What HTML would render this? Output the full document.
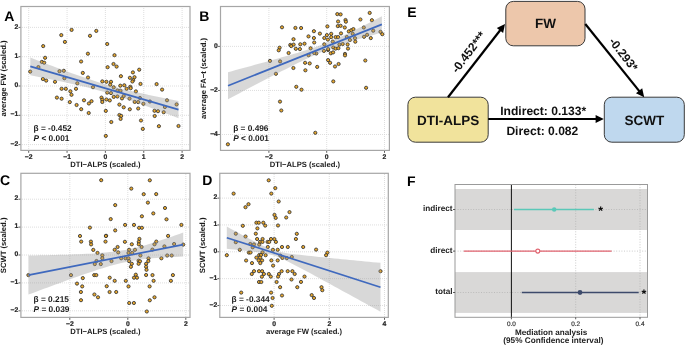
<!DOCTYPE html>
<html><head><meta charset="utf-8"><title>Figure</title>
<style>
html,body{margin:0;padding:0;background:#fff;}
body{width:685px;height:346px;overflow:hidden;font-family:"Liberation Sans", sans-serif;}
svg{display:block;filter:blur(0.3px);}
</style></head>
<body>
<svg width="685" height="346" viewBox="0 0 685 346" text-rendering="geometricPrecision">
<rect width="685" height="346" fill="#fff"/>
<g stroke="#d6d6d6" stroke-width="0.8" stroke-dasharray="1 1"><line x1="28.7" y1="6.5" x2="28.7" y2="150.4" stroke-dashoffset="0.50"/><line x1="67.05" y1="6.5" x2="67.05" y2="150.4" stroke-dashoffset="0.50"/><line x1="105.4" y1="6.5" x2="105.4" y2="150.4" stroke-dashoffset="0.50"/><line x1="143.75" y1="6.5" x2="143.75" y2="150.4" stroke-dashoffset="0.50"/><line x1="182.1" y1="6.5" x2="182.1" y2="150.4" stroke-dashoffset="0.50"/><line x1="20.9" y1="27.4" x2="190.0" y2="27.4" stroke-dashoffset="0.90"/><line x1="20.9" y1="56.7" x2="190.0" y2="56.7" stroke-dashoffset="0.90"/><line x1="20.9" y1="86.0" x2="190.0" y2="86.0" stroke-dashoffset="0.90"/><line x1="20.9" y1="115.3" x2="190.0" y2="115.3" stroke-dashoffset="0.90"/><line x1="20.9" y1="144.6" x2="190.0" y2="144.6" stroke-dashoffset="0.90"/></g>
<g fill="#E9A82C" stroke="#333" stroke-width="0.85"><circle cx="71.6" cy="29.9" r="1.6"/><circle cx="96.3" cy="30.9" r="1.6"/><circle cx="61.3" cy="35.1" r="1.6"/><circle cx="90.0" cy="35.8" r="1.6"/><circle cx="64.9" cy="41.9" r="1.6"/><circle cx="43.2" cy="46.1" r="1.6"/><circle cx="87.9" cy="53.7" r="1.6"/><circle cx="45.1" cy="57.8" r="1.6"/><circle cx="81.1" cy="61.5" r="1.6"/><circle cx="41.8" cy="61.9" r="1.6"/><circle cx="44.2" cy="62.7" r="1.6"/><circle cx="38.4" cy="67.1" r="1.6"/><circle cx="30.2" cy="71.6" r="1.6"/><circle cx="59.5" cy="71.2" r="1.6"/><circle cx="63.8" cy="70.8" r="1.6"/><circle cx="82.8" cy="72.9" r="1.6"/><circle cx="88.0" cy="77.5" r="1.6"/><circle cx="64.4" cy="78.2" r="1.6"/><circle cx="42.9" cy="79.0" r="1.6"/><circle cx="46.2" cy="80.6" r="1.6"/><circle cx="55.0" cy="81.8" r="1.6"/><circle cx="77.3" cy="83.3" r="1.6"/><circle cx="93.0" cy="87.2" r="1.6"/><circle cx="61.6" cy="88.8" r="1.6"/><circle cx="65.8" cy="88.8" r="1.6"/><circle cx="76.0" cy="88.8" r="1.6"/><circle cx="70.4" cy="91.3" r="1.6"/><circle cx="71.5" cy="94.8" r="1.6"/><circle cx="56.9" cy="97.6" r="1.6"/><circle cx="61.6" cy="98.7" r="1.6"/><circle cx="69.8" cy="102.1" r="1.6"/><circle cx="84.0" cy="100.3" r="1.6"/><circle cx="91.5" cy="101.2" r="1.6"/><circle cx="88.9" cy="103.5" r="1.6"/><circle cx="76.6" cy="105.0" r="1.6"/><circle cx="81.2" cy="109.2" r="1.6"/><circle cx="88.7" cy="113.0" r="1.6"/><circle cx="107.2" cy="44.0" r="1.6"/><circle cx="114.5" cy="55.2" r="1.6"/><circle cx="107.6" cy="67.2" r="1.6"/><circle cx="113.5" cy="64.0" r="1.6"/><circle cx="116.6" cy="66.6" r="1.6"/><circle cx="139.2" cy="69.7" r="1.6"/><circle cx="132.9" cy="72.4" r="1.6"/><circle cx="120.9" cy="76.2" r="1.6"/><circle cx="129.9" cy="77.8" r="1.6"/><circle cx="134.5" cy="77.2" r="1.6"/><circle cx="133.2" cy="80.1" r="1.6"/><circle cx="132.4" cy="81.5" r="1.6"/><circle cx="102.3" cy="81.4" r="1.6"/><circle cx="106.4" cy="81.8" r="1.6"/><circle cx="111.0" cy="81.8" r="1.6"/><circle cx="110.2" cy="84.7" r="1.6"/><circle cx="140.5" cy="83.9" r="1.6"/><circle cx="113.7" cy="87.3" r="1.6"/><circle cx="120.3" cy="85.7" r="1.6"/><circle cx="124.3" cy="85.3" r="1.6"/><circle cx="130.3" cy="86.8" r="1.6"/><circle cx="130.7" cy="88.2" r="1.6"/><circle cx="126.6" cy="88.8" r="1.6"/><circle cx="117.4" cy="90.5" r="1.6"/><circle cx="120.5" cy="90.8" r="1.6"/><circle cx="135.9" cy="91.4" r="1.6"/><circle cx="107.2" cy="92.6" r="1.6"/><circle cx="111.0" cy="93.1" r="1.6"/><circle cx="113.7" cy="96.9" r="1.6"/><circle cx="117.4" cy="96.5" r="1.6"/><circle cx="123.7" cy="96.0" r="1.6"/><circle cx="122.0" cy="98.4" r="1.6"/><circle cx="129.5" cy="98.6" r="1.6"/><circle cx="139.9" cy="98.0" r="1.6"/><circle cx="101.5" cy="97.6" r="1.6"/><circle cx="102.3" cy="99.8" r="1.6"/><circle cx="102.3" cy="102.0" r="1.6"/><circle cx="106.4" cy="99.5" r="1.6"/><circle cx="109.8" cy="100.4" r="1.6"/><circle cx="134.7" cy="101.9" r="1.6"/><circle cx="138.2" cy="102.1" r="1.6"/><circle cx="143.4" cy="103.8" r="1.6"/><circle cx="119.4" cy="104.6" r="1.6"/><circle cx="123.7" cy="107.3" r="1.6"/><circle cx="129.8" cy="109.3" r="1.6"/><circle cx="138.2" cy="108.5" r="1.6"/><circle cx="105.8" cy="110.9" r="1.6"/><circle cx="119.4" cy="115.0" r="1.6"/><circle cx="121.2" cy="115.9" r="1.6"/><circle cx="120.6" cy="118.9" r="1.6"/><circle cx="111.3" cy="122.0" r="1.6"/><circle cx="141.0" cy="120.5" r="1.6"/><circle cx="142.8" cy="128.9" r="1.6"/><circle cx="105.8" cy="135.9" r="1.6"/><circle cx="156.6" cy="84.1" r="1.6"/><circle cx="162.1" cy="89.6" r="1.6"/><circle cx="149.9" cy="101.5" r="1.6"/><circle cx="167.0" cy="100.3" r="1.6"/><circle cx="176.6" cy="104.4" r="1.6"/><circle cx="164.9" cy="107.0" r="1.6"/><circle cx="154.5" cy="110.8" r="1.6"/><circle cx="158.0" cy="111.2" r="1.6"/><circle cx="163.7" cy="112.2" r="1.6"/><circle cx="154.7" cy="116.0" r="1.6"/><circle cx="158.9" cy="126.2" r="1.6"/><circle cx="178.5" cy="126.0" r="1.6"/></g>
<path d="M30.30,57.60 L34.01,59.03 L37.71,60.45 L41.41,61.86 L45.12,63.27 L48.83,64.67 L52.53,66.07 L56.23,67.46 L59.94,68.84 L63.64,70.21 L67.35,71.57 L71.05,72.91 L74.76,74.24 L78.47,75.55 L82.17,76.84 L85.88,78.11 L89.58,79.35 L93.28,80.57 L96.99,81.74 L100.69,82.89 L104.40,84.00 L108.10,85.07 L111.81,86.10 L115.52,87.10 L119.22,88.07 L122.92,89.00 L126.63,89.91 L130.34,90.79 L134.04,91.65 L137.74,92.49 L141.45,93.31 L145.16,94.12 L148.86,94.91 L152.56,95.70 L156.27,96.48 L159.98,97.24 L163.68,98.00 L167.38,98.76 L171.09,99.51 L174.79,100.25 L178.50,100.99 L178.50,118.21 L174.79,116.79 L171.09,115.37 L167.38,113.96 L163.68,112.56 L159.98,111.16 L156.27,109.76 L152.56,108.38 L148.86,107.01 L145.16,105.64 L141.45,104.29 L137.74,102.95 L134.04,101.63 L130.34,100.33 L126.63,99.05 L122.92,97.80 L119.22,96.57 L115.52,95.38 L111.81,94.22 L108.10,93.09 L104.40,92.00 L100.69,90.95 L96.99,89.94 L93.28,88.95 L89.58,88.01 L85.88,87.09 L82.17,86.20 L78.47,85.33 L74.76,84.48 L71.05,83.65 L67.35,82.83 L63.64,82.03 L59.94,81.24 L56.23,80.46 L52.53,79.69 L48.83,78.93 L45.12,78.17 L41.41,77.42 L37.71,76.67 L34.01,75.93 L30.30,75.20 Z" fill="#999" fill-opacity="0.38"/>
<line x1="30.3" y1="66.4" x2="178.5" y2="109.6" stroke="#3f69be" stroke-width="1.7"/>
<rect x="20.9" y="6.5" width="169.1" height="143.9" fill="none" stroke="#a6a6a6" stroke-width="1.2"/>
<g stroke="#333" stroke-width="0.8"><line x1="28.7" y1="151.0" x2="28.7" y2="152.8"/><line x1="67.05" y1="151.0" x2="67.05" y2="152.8"/><line x1="105.4" y1="151.0" x2="105.4" y2="152.8"/><line x1="143.75" y1="151.0" x2="143.75" y2="152.8"/><line x1="182.1" y1="151.0" x2="182.1" y2="152.8"/><line x1="18.5" y1="27.4" x2="20.299999999999997" y2="27.4"/><line x1="18.5" y1="56.7" x2="20.299999999999997" y2="56.7"/><line x1="18.5" y1="86.0" x2="20.299999999999997" y2="86.0"/><line x1="18.5" y1="115.3" x2="20.299999999999997" y2="115.3"/><line x1="18.5" y1="144.6" x2="20.299999999999997" y2="144.6"/></g>
<g font-family='"Liberation Sans", sans-serif' font-weight="bold" font-size="6.8" fill="#262626" stroke="#262626" stroke-width="0.2"><text x="28.7" y="158.8" text-anchor="middle">−2</text><text x="67.05" y="158.8" text-anchor="middle">−1</text><text x="105.4" y="158.8" text-anchor="middle">0</text><text x="143.75" y="158.8" text-anchor="middle">1</text><text x="182.1" y="158.8" text-anchor="middle">2</text><text x="18.299999999999997" y="28.5" text-anchor="end">2</text><text x="18.299999999999997" y="57.800000000000004" text-anchor="end">1</text><text x="18.299999999999997" y="87.1" text-anchor="end">0</text><text x="18.299999999999997" y="116.39999999999999" text-anchor="end">−1</text><text x="18.299999999999997" y="145.7" text-anchor="end">−2</text></g>
<text x="105.45" y="166.9" text-anchor="middle" font-family='"Liberation Sans", sans-serif' font-weight="bold" font-size="7.65" fill="#1a1a1a">DTI−ALPS (scaled.)</text>
<text transform="translate(5.9,78.45) rotate(-90)" x="0" y="0" text-anchor="middle" font-family='"Liberation Sans", sans-serif' font-weight="bold" font-size="7.65" fill="#1a1a1a">average FW (scaled.)</text>
<text x="33.6" y="131.0" font-family='"Liberation Sans", sans-serif' font-weight="bold" font-size="8.3" fill="#1a1a1a">β = -0.452</text>
<text x="33.6" y="141.0" font-family='"Liberation Sans", sans-serif' font-weight="bold" font-size="8.3" fill="#1a1a1a"><tspan font-style="italic">P</tspan> &lt; 0.001</text>
<text x="4.2" y="20.8" font-family='"Liberation Sans", sans-serif' font-weight="bold" font-size="14" fill="#000">A</text>
<g stroke="#d6d6d6" stroke-width="0.8" stroke-dasharray="1 1"><line x1="268.9" y1="6.5" x2="268.9" y2="150.4" stroke-dashoffset="0.50"/><line x1="326.7" y1="6.5" x2="326.7" y2="150.4" stroke-dashoffset="0.50"/><line x1="384.5" y1="6.5" x2="384.5" y2="150.4" stroke-dashoffset="0.50"/><line x1="220.5" y1="46.4" x2="389.4" y2="46.4" stroke-dashoffset="0.50"/><line x1="220.5" y1="90.46" x2="389.4" y2="90.46" stroke-dashoffset="0.50"/><line x1="220.5" y1="134.52" x2="389.4" y2="134.52" stroke-dashoffset="0.50"/></g>
<g fill="#E9A82C" stroke="#333" stroke-width="0.85"><circle cx="282.0" cy="27.3" r="1.6"/><circle cx="295.4" cy="27.9" r="1.6"/><circle cx="301.1" cy="28.0" r="1.6"/><circle cx="313.9" cy="31.2" r="1.6"/><circle cx="319.9" cy="33.6" r="1.6"/><circle cx="308.5" cy="36.4" r="1.6"/><circle cx="313.9" cy="38.0" r="1.6"/><circle cx="324.3" cy="38.0" r="1.6"/><circle cx="293.5" cy="39.2" r="1.6"/><circle cx="314.2" cy="42.5" r="1.6"/><circle cx="290.3" cy="44.9" r="1.6"/><circle cx="293.6" cy="44.6" r="1.6"/><circle cx="291.2" cy="46.1" r="1.6"/><circle cx="300.3" cy="44.3" r="1.6"/><circle cx="304.5" cy="43.7" r="1.6"/><circle cx="279.6" cy="47.7" r="1.6"/><circle cx="278.7" cy="50.3" r="1.6"/><circle cx="295.8" cy="48.8" r="1.6"/><circle cx="299.9" cy="49.1" r="1.6"/><circle cx="310.6" cy="48.3" r="1.6"/><circle cx="324.3" cy="44.3" r="1.6"/><circle cx="288.6" cy="53.0" r="1.6"/><circle cx="323.9" cy="50.9" r="1.6"/><circle cx="316.3" cy="53.5" r="1.6"/><circle cx="308.6" cy="55.2" r="1.6"/><circle cx="314.2" cy="53.0" r="1.6"/><circle cx="280.1" cy="61.4" r="1.6"/><circle cx="270.0" cy="60.9" r="1.6"/><circle cx="293.4" cy="68.0" r="1.6"/><circle cx="275.9" cy="73.8" r="1.6"/><circle cx="305.1" cy="62.8" r="1.6"/><circle cx="305.4" cy="70.3" r="1.6"/><circle cx="309.7" cy="63.4" r="1.6"/><circle cx="317.2" cy="66.9" r="1.6"/><circle cx="296.3" cy="86.8" r="1.6"/><circle cx="301.5" cy="89.7" r="1.6"/><circle cx="280.0" cy="101.6" r="1.6"/><circle cx="281.3" cy="110.5" r="1.6"/><circle cx="227.9" cy="144.3" r="1.6"/><circle cx="315.3" cy="132.8" r="1.6"/><circle cx="333.3" cy="81.4" r="1.6"/><circle cx="366.1" cy="87.8" r="1.6"/><circle cx="328.1" cy="50.0" r="1.6"/><circle cx="330.8" cy="53.3" r="1.6"/><circle cx="333.1" cy="52.4" r="1.6"/><circle cx="345.0" cy="53.9" r="1.6"/><circle cx="345.0" cy="55.4" r="1.6"/><circle cx="328.1" cy="60.1" r="1.6"/><circle cx="330.1" cy="62.8" r="1.6"/><circle cx="335.0" cy="66.5" r="1.6"/><circle cx="338.6" cy="64.0" r="1.6"/><circle cx="365.3" cy="60.5" r="1.6"/><circle cx="337.3" cy="14.1" r="1.6"/><circle cx="340.6" cy="14.4" r="1.6"/><circle cx="369.7" cy="12.9" r="1.6"/><circle cx="360.4" cy="19.5" r="1.6"/><circle cx="371.9" cy="20.2" r="1.6"/><circle cx="345.5" cy="20.0" r="1.6"/><circle cx="345.9" cy="21.7" r="1.6"/><circle cx="338.1" cy="21.5" r="1.6"/><circle cx="327.4" cy="26.4" r="1.6"/><circle cx="337.8" cy="26.1" r="1.6"/><circle cx="340.6" cy="25.8" r="1.6"/><circle cx="344.8" cy="27.5" r="1.6"/><circle cx="363.8" cy="27.5" r="1.6"/><circle cx="348.8" cy="31.4" r="1.6"/><circle cx="351.3" cy="30.2" r="1.6"/><circle cx="353.4" cy="29.1" r="1.6"/><circle cx="373.2" cy="30.7" r="1.6"/><circle cx="380.5" cy="31.8" r="1.6"/><circle cx="382.3" cy="34.2" r="1.6"/><circle cx="326.9" cy="35.1" r="1.6"/><circle cx="331.2" cy="33.8" r="1.6"/><circle cx="341.0" cy="33.4" r="1.6"/><circle cx="327.9" cy="39.6" r="1.6"/><circle cx="331.2" cy="37.1" r="1.6"/><circle cx="335.6" cy="37.1" r="1.6"/><circle cx="338.1" cy="37.1" r="1.6"/><circle cx="346.8" cy="37.0" r="1.6"/><circle cx="352.7" cy="33.8" r="1.6"/><circle cx="364.0" cy="36.8" r="1.6"/><circle cx="367.1" cy="34.8" r="1.6"/><circle cx="370.8" cy="38.1" r="1.6"/><circle cx="349.9" cy="40.0" r="1.6"/><circle cx="355.0" cy="38.2" r="1.6"/><circle cx="355.3" cy="41.7" r="1.6"/><circle cx="332.8" cy="41.6" r="1.6"/><circle cx="339.4" cy="44.5" r="1.6"/><circle cx="342.7" cy="44.0" r="1.6"/><circle cx="347.6" cy="44.4" r="1.6"/><circle cx="328.2" cy="49.1" r="1.6"/><circle cx="333.2" cy="47.5" r="1.6"/><circle cx="335.6" cy="48.6" r="1.6"/><circle cx="338.4" cy="48.2" r="1.6"/><circle cx="348.0" cy="48.6" r="1.6"/></g>
<path d="M228.00,72.21 L231.85,71.17 L235.69,70.12 L239.54,69.08 L243.39,68.03 L247.24,66.98 L251.09,65.93 L254.93,64.87 L258.78,63.82 L262.63,62.75 L266.48,61.69 L270.32,60.62 L274.17,59.54 L278.02,58.46 L281.87,57.37 L285.71,56.27 L289.56,55.16 L293.41,54.03 L297.25,52.88 L301.10,51.72 L304.95,50.52 L308.80,49.29 L312.64,48.02 L316.49,46.70 L320.34,45.32 L324.19,43.87 L328.03,42.35 L331.88,40.76 L335.73,39.09 L339.58,37.37 L343.42,35.59 L347.27,33.76 L351.12,31.90 L354.97,30.01 L358.81,28.10 L362.66,26.16 L366.51,24.22 L370.36,22.26 L374.20,20.28 L378.05,18.30 L381.90,16.32 L381.90,32.48 L378.05,33.56 L374.20,34.65 L370.36,35.74 L366.51,36.84 L362.66,37.96 L358.81,39.09 L354.97,40.24 L351.12,41.42 L347.27,42.62 L343.42,43.86 L339.58,45.15 L335.73,46.49 L331.88,47.89 L328.03,49.36 L324.19,50.90 L320.34,52.52 L316.49,54.20 L312.64,55.95 L308.80,57.74 L304.95,59.58 L301.10,61.45 L297.25,63.35 L293.41,65.27 L289.56,67.20 L285.71,69.16 L281.87,71.12 L278.02,73.09 L274.17,75.08 L270.32,77.07 L266.48,79.06 L262.63,81.06 L258.78,83.06 L254.93,85.07 L251.09,87.08 L247.24,89.10 L243.39,91.11 L239.54,93.13 L235.69,95.15 L231.85,97.17 L228.00,99.19 Z" fill="#999" fill-opacity="0.38"/>
<line x1="228.0" y1="85.7" x2="381.9" y2="24.4" stroke="#3f69be" stroke-width="1.7"/>
<rect x="220.5" y="6.5" width="168.89999999999998" height="143.9" fill="none" stroke="#a6a6a6" stroke-width="1.2"/>
<g stroke="#333" stroke-width="0.8"><line x1="268.9" y1="151.0" x2="268.9" y2="152.8"/><line x1="326.7" y1="151.0" x2="326.7" y2="152.8"/><line x1="384.5" y1="151.0" x2="384.5" y2="152.8"/><line x1="218.1" y1="46.4" x2="219.9" y2="46.4"/><line x1="218.1" y1="90.46" x2="219.9" y2="90.46"/><line x1="218.1" y1="134.52" x2="219.9" y2="134.52"/></g>
<g font-family='"Liberation Sans", sans-serif' font-weight="bold" font-size="6.8" fill="#262626" stroke="#262626" stroke-width="0.2"><text x="268.9" y="158.8" text-anchor="middle">−2</text><text x="326.7" y="158.8" text-anchor="middle">0</text><text x="384.5" y="158.8" text-anchor="middle">2</text><text x="217.9" y="47.5" text-anchor="end">0</text><text x="217.9" y="91.55999999999999" text-anchor="end">−2</text><text x="217.9" y="135.62" text-anchor="end">−4</text></g>
<text x="304.95" y="166.9" text-anchor="middle" font-family='"Liberation Sans", sans-serif' font-weight="bold" font-size="7.65" fill="#1a1a1a">DTI−ALPS (scaled.)</text>
<text transform="translate(205.5,78.45) rotate(-90)" x="0" y="0" text-anchor="middle" font-family='"Liberation Sans", sans-serif' font-weight="bold" font-size="7.65" fill="#1a1a1a">average FA−t (scaled.)</text>
<text x="233.2" y="131.0" font-family='"Liberation Sans", sans-serif' font-weight="bold" font-size="8.3" fill="#1a1a1a">β = 0.496</text>
<text x="233.2" y="141.0" font-family='"Liberation Sans", sans-serif' font-weight="bold" font-size="8.3" fill="#1a1a1a"><tspan font-style="italic">P</tspan> &lt; 0.001</text>
<text x="199.2" y="20.9" font-family='"Liberation Sans", sans-serif' font-weight="bold" font-size="14" fill="#000">B</text>
<g stroke="#d6d6d6" stroke-width="0.8" stroke-dasharray="1 1"><line x1="69.8" y1="173.3" x2="69.8" y2="317.4" stroke-dashoffset="1.30"/><line x1="127.8" y1="173.3" x2="127.8" y2="317.4" stroke-dashoffset="1.30"/><line x1="185.8" y1="173.3" x2="185.8" y2="317.4" stroke-dashoffset="1.30"/><line x1="20.9" y1="199.2" x2="190.0" y2="199.2" stroke-dashoffset="0.90"/><line x1="20.9" y1="227.1" x2="190.0" y2="227.1" stroke-dashoffset="0.90"/><line x1="20.9" y1="255.0" x2="190.0" y2="255.0" stroke-dashoffset="0.90"/><line x1="20.9" y1="282.9" x2="190.0" y2="282.9" stroke-dashoffset="0.90"/><line x1="20.9" y1="310.8" x2="190.0" y2="310.8" stroke-dashoffset="0.90"/></g>
<g fill="#E9A82C" stroke="#333" stroke-width="0.85"><circle cx="101.2" cy="180.2" r="1.6"/><circle cx="149.8" cy="180.3" r="1.6"/><circle cx="131.3" cy="188.6" r="1.6"/><circle cx="143.7" cy="194.2" r="1.6"/><circle cx="156.2" cy="194.1" r="1.6"/><circle cx="147.9" cy="202.6" r="1.6"/><circle cx="115.2" cy="205.1" r="1.6"/><circle cx="165.0" cy="208.0" r="1.6"/><circle cx="153.3" cy="213.4" r="1.6"/><circle cx="110.7" cy="219.1" r="1.6"/><circle cx="141.9" cy="216.3" r="1.6"/><circle cx="166.5" cy="219.3" r="1.6"/><circle cx="181.4" cy="224.9" r="1.6"/><circle cx="125.1" cy="224.9" r="1.6"/><circle cx="134.0" cy="224.9" r="1.6"/><circle cx="139.1" cy="227.8" r="1.6"/><circle cx="141.9" cy="227.8" r="1.6"/><circle cx="115.2" cy="230.4" r="1.6"/><circle cx="106.1" cy="235.8" r="1.6"/><circle cx="105.5" cy="241.6" r="1.6"/><circle cx="124.9" cy="241.8" r="1.6"/><circle cx="131.8" cy="244.3" r="1.6"/><circle cx="139.4" cy="238.9" r="1.6"/><circle cx="138.8" cy="241.8" r="1.6"/><circle cx="138.8" cy="244.3" r="1.6"/><circle cx="141.6" cy="247.0" r="1.6"/><circle cx="117.6" cy="247.0" r="1.6"/><circle cx="114.7" cy="249.8" r="1.6"/><circle cx="129.1" cy="249.8" r="1.6"/><circle cx="135.0" cy="249.8" r="1.6"/><circle cx="118.2" cy="252.4" r="1.6"/><circle cx="168.1" cy="235.9" r="1.6"/><circle cx="156.3" cy="241.6" r="1.6"/><circle cx="154.5" cy="244.3" r="1.6"/><circle cx="174.1" cy="244.0" r="1.6"/><circle cx="183.2" cy="244.6" r="1.6"/><circle cx="164.4" cy="246.4" r="1.6"/><circle cx="152.4" cy="249.6" r="1.6"/><circle cx="128.5" cy="252.9" r="1.6"/><circle cx="132.2" cy="252.9" r="1.6"/><circle cx="111.5" cy="261.1" r="1.6"/><circle cx="121.2" cy="258.3" r="1.6"/><circle cx="125.5" cy="258.3" r="1.6"/><circle cx="128.5" cy="258.3" r="1.6"/><circle cx="129.1" cy="261.1" r="1.6"/><circle cx="140.4" cy="255.5" r="1.6"/><circle cx="138.6" cy="260.7" r="1.6"/><circle cx="140.0" cy="261.3" r="1.6"/><circle cx="138.6" cy="263.8" r="1.6"/><circle cx="131.8" cy="263.8" r="1.6"/><circle cx="130.9" cy="266.8" r="1.6"/><circle cx="146.1" cy="263.8" r="1.6"/><circle cx="146.1" cy="266.8" r="1.6"/><circle cx="146.5" cy="269.8" r="1.6"/><circle cx="148.5" cy="258.3" r="1.6"/><circle cx="148.3" cy="261.1" r="1.6"/><circle cx="146.1" cy="275.0" r="1.6"/><circle cx="135.8" cy="274.7" r="1.6"/><circle cx="134.0" cy="277.7" r="1.6"/><circle cx="137.0" cy="277.7" r="1.6"/><circle cx="109.7" cy="277.7" r="1.6"/><circle cx="114.7" cy="280.8" r="1.6"/><circle cx="125.8" cy="280.8" r="1.6"/><circle cx="106.7" cy="286.2" r="1.6"/><circle cx="128.5" cy="286.4" r="1.6"/><circle cx="149.6" cy="286.4" r="1.6"/><circle cx="167.2" cy="255.5" r="1.6"/><circle cx="171.7" cy="255.5" r="1.6"/><circle cx="161.4" cy="258.3" r="1.6"/><circle cx="152.5" cy="275.1" r="1.6"/><circle cx="172.9" cy="275.1" r="1.6"/><circle cx="153.6" cy="280.8" r="1.6"/><circle cx="170.9" cy="280.8" r="1.6"/><circle cx="109.6" cy="292.0" r="1.6"/><circle cx="116.2" cy="292.0" r="1.6"/><circle cx="154.5" cy="297.3" r="1.6"/><circle cx="149.8" cy="300.3" r="1.6"/><circle cx="129.2" cy="303.0" r="1.6"/><circle cx="133.9" cy="303.0" r="1.6"/><circle cx="146.8" cy="311.5" r="1.6"/><circle cx="89.9" cy="227.6" r="1.6"/><circle cx="80.0" cy="236.0" r="1.6"/><circle cx="105.9" cy="236.0" r="1.6"/><circle cx="81.2" cy="241.6" r="1.6"/><circle cx="90.9" cy="241.6" r="1.6"/><circle cx="91.1" cy="244.4" r="1.6"/><circle cx="93.3" cy="249.9" r="1.6"/><circle cx="97.5" cy="252.9" r="1.6"/><circle cx="102.3" cy="255.4" r="1.6"/><circle cx="102.3" cy="258.2" r="1.6"/><circle cx="96.5" cy="261.0" r="1.6"/><circle cx="94.8" cy="264.1" r="1.6"/><circle cx="100.8" cy="264.1" r="1.6"/><circle cx="28.4" cy="275.1" r="1.6"/><circle cx="71.0" cy="275.1" r="1.6"/><circle cx="82.8" cy="278.1" r="1.6"/><circle cx="77.0" cy="283.6" r="1.6"/><circle cx="82.2" cy="286.4" r="1.6"/><circle cx="80.9" cy="292.0" r="1.6"/><circle cx="81.0" cy="300.2" r="1.6"/><circle cx="94.2" cy="275.1" r="1.6"/><circle cx="96.3" cy="275.1" r="1.6"/><circle cx="94.4" cy="294.5" r="1.6"/><circle cx="98.0" cy="297.3" r="1.6"/></g>
<path d="M28.40,255.61 L32.27,255.53 L36.14,255.45 L40.01,255.36 L43.88,255.28 L47.75,255.18 L51.62,255.08 L55.49,254.98 L59.36,254.87 L63.23,254.76 L67.10,254.63 L70.97,254.50 L74.84,254.35 L78.71,254.20 L82.58,254.03 L86.45,253.84 L90.32,253.63 L94.19,253.40 L98.06,253.14 L101.93,252.84 L105.80,252.50 L109.67,252.12 L113.54,251.67 L117.41,251.16 L121.28,250.58 L125.15,249.92 L129.02,249.17 L132.89,248.34 L136.76,247.43 L140.63,246.44 L144.50,245.38 L148.37,244.26 L152.24,243.09 L156.11,241.88 L159.98,240.62 L163.85,239.34 L167.72,238.03 L171.59,236.70 L175.46,235.36 L179.33,233.99 L183.20,232.62 L183.20,256.58 L179.33,256.73 L175.46,256.89 L171.59,257.07 L167.72,257.27 L163.85,257.48 L159.98,257.73 L156.11,258.00 L152.24,258.31 L148.37,258.67 L144.50,259.07 L140.63,259.54 L136.76,260.07 L132.89,260.69 L129.02,261.38 L125.15,262.16 L121.28,263.02 L117.41,263.96 L113.54,264.98 L109.67,266.06 L105.80,267.20 L101.93,268.39 L98.06,269.61 L94.19,270.88 L90.32,272.17 L86.45,273.49 L82.58,274.82 L78.71,276.18 L74.84,277.55 L70.97,278.93 L67.10,280.32 L63.23,281.72 L59.36,283.13 L55.49,284.54 L51.62,285.97 L47.75,287.39 L43.88,288.82 L40.01,290.26 L36.14,291.70 L32.27,293.14 L28.40,294.59 Z" fill="#999" fill-opacity="0.38"/>
<line x1="28.4" y1="275.1" x2="183.2" y2="244.6" stroke="#3f69be" stroke-width="1.7"/>
<rect x="20.9" y="173.3" width="169.1" height="144.09999999999997" fill="none" stroke="#a6a6a6" stroke-width="1.2"/>
<g stroke="#333" stroke-width="0.8"><line x1="69.8" y1="318.0" x2="69.8" y2="319.79999999999995"/><line x1="127.8" y1="318.0" x2="127.8" y2="319.79999999999995"/><line x1="185.8" y1="318.0" x2="185.8" y2="319.79999999999995"/><line x1="18.5" y1="199.2" x2="20.299999999999997" y2="199.2"/><line x1="18.5" y1="227.1" x2="20.299999999999997" y2="227.1"/><line x1="18.5" y1="255.0" x2="20.299999999999997" y2="255.0"/><line x1="18.5" y1="282.9" x2="20.299999999999997" y2="282.9"/><line x1="18.5" y1="310.8" x2="20.299999999999997" y2="310.8"/></g>
<g font-family='"Liberation Sans", sans-serif' font-weight="bold" font-size="6.8" fill="#262626" stroke="#262626" stroke-width="0.2"><text x="69.8" y="325.6" text-anchor="middle">−2</text><text x="127.8" y="325.6" text-anchor="middle">0</text><text x="185.8" y="325.6" text-anchor="middle">2</text><text x="18.299999999999997" y="200.29999999999998" text-anchor="end">2</text><text x="18.299999999999997" y="228.2" text-anchor="end">1</text><text x="18.299999999999997" y="256.1" text-anchor="end">0</text><text x="18.299999999999997" y="284.0" text-anchor="end">−1</text><text x="18.299999999999997" y="311.90000000000003" text-anchor="end">−2</text></g>
<text x="105.45" y="333.9" text-anchor="middle" font-family='"Liberation Sans", sans-serif' font-weight="bold" font-size="7.65" fill="#1a1a1a">DTI−ALPS (scaled.)</text>
<text transform="translate(5.9,245.35) rotate(-90)" x="0" y="0" text-anchor="middle" font-family='"Liberation Sans", sans-serif' font-weight="bold" font-size="7.65" fill="#1a1a1a">SCWT (scaled.)</text>
<text x="33.6" y="302.0" font-family='"Liberation Sans", sans-serif' font-weight="bold" font-size="8.3" fill="#1a1a1a">β = 0.215</text>
<text x="33.6" y="312.0" font-family='"Liberation Sans", sans-serif' font-weight="bold" font-size="8.3" fill="#1a1a1a"><tspan font-style="italic">P</tspan> = 0.039</text>
<text x="0.0" y="184.8" font-family='"Liberation Sans", sans-serif' font-weight="bold" font-size="14" fill="#000">C</text>
<g stroke="#d6d6d6" stroke-width="0.8" stroke-dasharray="1 1"><line x1="274.1" y1="173.3" x2="274.1" y2="317.4" stroke-dashoffset="1.30"/><line x1="329.3" y1="173.3" x2="329.3" y2="317.4" stroke-dashoffset="1.30"/><line x1="384.5" y1="173.3" x2="384.5" y2="317.4" stroke-dashoffset="1.30"/><line x1="219.8" y1="198.1" x2="388.3" y2="198.1" stroke-dashoffset="1.80"/><line x1="219.8" y1="224.95" x2="388.3" y2="224.95" stroke-dashoffset="1.80"/><line x1="219.8" y1="251.8" x2="388.3" y2="251.8" stroke-dashoffset="1.80"/><line x1="219.8" y1="278.65" x2="388.3" y2="278.65" stroke-dashoffset="1.80"/><line x1="219.8" y1="305.5" x2="388.3" y2="305.5" stroke-dashoffset="1.80"/></g>
<g fill="#E9A82C" stroke="#333" stroke-width="0.85"><circle cx="268.7" cy="180.3" r="1.6"/><circle cx="233.6" cy="193.6" r="1.6"/><circle cx="275.3" cy="188.1" r="1.6"/><circle cx="271.3" cy="193.6" r="1.6"/><circle cx="278.7" cy="201.5" r="1.6"/><circle cx="248.5" cy="204.2" r="1.6"/><circle cx="245.5" cy="207.2" r="1.6"/><circle cx="289.5" cy="212.1" r="1.6"/><circle cx="274.5" cy="214.9" r="1.6"/><circle cx="275.7" cy="217.9" r="1.6"/><circle cx="286.2" cy="217.5" r="1.6"/><circle cx="242.8" cy="225.8" r="1.6"/><circle cx="256.4" cy="222.7" r="1.6"/><circle cx="258.8" cy="222.7" r="1.6"/><circle cx="263.3" cy="222.7" r="1.6"/><circle cx="265.2" cy="225.6" r="1.6"/><circle cx="278.0" cy="225.5" r="1.6"/><circle cx="257.4" cy="228.4" r="1.6"/><circle cx="255.8" cy="233.7" r="1.6"/><circle cx="235.8" cy="233.7" r="1.6"/><circle cx="245.5" cy="236.5" r="1.6"/><circle cx="296.8" cy="233.8" r="1.6"/><circle cx="295.9" cy="239.0" r="1.6"/><circle cx="257.1" cy="239.0" r="1.6"/><circle cx="262.6" cy="239.0" r="1.6"/><circle cx="271.0" cy="239.0" r="1.6"/><circle cx="274.4" cy="239.1" r="1.6"/><circle cx="260.1" cy="241.9" r="1.6"/><circle cx="262.5" cy="241.9" r="1.6"/><circle cx="267.6" cy="241.9" r="1.6"/><circle cx="269.2" cy="241.9" r="1.6"/><circle cx="275.9" cy="241.9" r="1.6"/><circle cx="235.8" cy="242.2" r="1.6"/><circle cx="250.3" cy="244.0" r="1.6"/><circle cx="254.0" cy="244.4" r="1.6"/><circle cx="259.2" cy="244.6" r="1.6"/><circle cx="252.7" cy="247.3" r="1.6"/><circle cx="267.8" cy="247.0" r="1.6"/><circle cx="282.0" cy="247.0" r="1.6"/><circle cx="287.8" cy="247.0" r="1.6"/><circle cx="303.2" cy="247.0" r="1.6"/><circle cx="239.8" cy="249.8" r="1.6"/><circle cx="272.9" cy="249.8" r="1.6"/><circle cx="277.7" cy="249.8" r="1.6"/><circle cx="248.9" cy="252.6" r="1.6"/><circle cx="250.5" cy="252.5" r="1.6"/><circle cx="262.5" cy="252.3" r="1.6"/><circle cx="259.2" cy="255.1" r="1.6"/><circle cx="261.0" cy="255.0" r="1.6"/><circle cx="265.6" cy="255.2" r="1.6"/><circle cx="256.4" cy="257.6" r="1.6"/><circle cx="260.1" cy="257.6" r="1.6"/><circle cx="280.3" cy="255.6" r="1.6"/><circle cx="282.4" cy="257.9" r="1.6"/><circle cx="286.8" cy="258.1" r="1.6"/><circle cx="291.8" cy="257.0" r="1.6"/><circle cx="246.1" cy="260.5" r="1.6"/><circle cx="258.7" cy="260.4" r="1.6"/><circle cx="262.1" cy="260.4" r="1.6"/><circle cx="271.4" cy="260.4" r="1.6"/><circle cx="277.7" cy="260.4" r="1.6"/><circle cx="252.0" cy="263.1" r="1.6"/><circle cx="260.3" cy="263.1" r="1.6"/><circle cx="273.1" cy="265.6" r="1.6"/><circle cx="254.0" cy="271.2" r="1.6"/><circle cx="259.0" cy="271.2" r="1.6"/><circle cx="262.1" cy="271.2" r="1.6"/><circle cx="281.6" cy="271.2" r="1.6"/><circle cx="287.7" cy="271.2" r="1.6"/><circle cx="292.4" cy="271.2" r="1.6"/><circle cx="251.8" cy="274.0" r="1.6"/><circle cx="263.9" cy="274.0" r="1.6"/><circle cx="268.8" cy="274.0" r="1.6"/><circle cx="279.0" cy="274.0" r="1.6"/><circle cx="294.7" cy="274.0" r="1.6"/><circle cx="261.9" cy="276.7" r="1.6"/><circle cx="270.8" cy="276.6" r="1.6"/><circle cx="278.1" cy="276.6" r="1.6"/><circle cx="304.5" cy="276.6" r="1.6"/><circle cx="259.0" cy="282.0" r="1.6"/><circle cx="261.3" cy="282.0" r="1.6"/><circle cx="276.6" cy="282.0" r="1.6"/><circle cx="291.5" cy="279.5" r="1.6"/><circle cx="301.0" cy="281.9" r="1.6"/><circle cx="280.1" cy="287.2" r="1.6"/><circle cx="297.3" cy="287.2" r="1.6"/><circle cx="241.2" cy="292.6" r="1.6"/><circle cx="271.1" cy="292.6" r="1.6"/><circle cx="272.6" cy="298.0" r="1.6"/><circle cx="282.0" cy="295.5" r="1.6"/><circle cx="311.7" cy="295.1" r="1.6"/><circle cx="314.0" cy="298.0" r="1.6"/><circle cx="271.8" cy="305.8" r="1.6"/><circle cx="316.1" cy="249.6" r="1.6"/><circle cx="327.4" cy="252.6" r="1.6"/><circle cx="326.1" cy="255.2" r="1.6"/><circle cx="380.5" cy="271.2" r="1.6"/><circle cx="321.5" cy="287.2" r="1.6"/><circle cx="322.3" cy="290.2" r="1.6"/><circle cx="226.8" cy="255.2" r="1.6"/></g>
<path d="M226.80,226.59 L230.64,228.68 L234.49,230.77 L238.33,232.85 L242.17,234.92 L246.01,236.98 L249.86,239.02 L253.70,241.05 L257.54,243.03 L261.38,244.96 L265.23,246.80 L269.07,248.50 L272.91,249.97 L276.75,251.15 L280.60,252.07 L284.44,252.79 L288.28,253.39 L292.12,253.91 L295.97,254.39 L299.81,254.84 L303.65,255.27 L307.49,255.69 L311.34,256.09 L315.18,256.49 L319.02,256.88 L322.86,257.27 L326.71,257.65 L330.55,258.03 L334.39,258.41 L338.23,258.79 L342.08,259.17 L345.92,259.54 L349.76,259.91 L353.60,260.28 L357.44,260.66 L361.29,261.03 L365.13,261.40 L368.97,261.77 L372.81,262.13 L376.66,262.50 L380.50,262.87 L380.50,311.73 L376.66,309.62 L372.81,307.51 L368.97,305.39 L365.13,303.28 L361.29,301.17 L357.44,299.06 L353.60,296.96 L349.76,294.85 L345.92,292.74 L342.08,290.63 L338.23,288.53 L334.39,286.43 L330.55,284.33 L326.71,282.23 L322.86,280.13 L319.02,278.04 L315.18,275.95 L311.34,273.87 L307.49,271.79 L303.65,269.73 L299.81,267.68 L295.97,265.65 L292.12,263.65 L288.28,261.69 L284.44,259.81 L280.60,258.05 L276.75,256.49 L272.91,255.19 L269.07,254.18 L265.23,253.40 L261.38,252.76 L257.54,252.21 L253.70,251.71 L249.86,251.26 L246.01,250.82 L242.17,250.40 L238.33,249.99 L234.49,249.59 L230.64,249.20 L226.80,248.81 Z" fill="#999" fill-opacity="0.38"/>
<line x1="226.8" y1="237.7" x2="380.5" y2="287.3" stroke="#3f69be" stroke-width="1.7"/>
<rect x="219.8" y="173.3" width="168.5" height="144.09999999999997" fill="none" stroke="#a6a6a6" stroke-width="1.2"/>
<g stroke="#333" stroke-width="0.8"><line x1="274.1" y1="318.0" x2="274.1" y2="319.79999999999995"/><line x1="329.3" y1="318.0" x2="329.3" y2="319.79999999999995"/><line x1="384.5" y1="318.0" x2="384.5" y2="319.79999999999995"/><line x1="217.4" y1="198.1" x2="219.20000000000002" y2="198.1"/><line x1="217.4" y1="224.95" x2="219.20000000000002" y2="224.95"/><line x1="217.4" y1="251.8" x2="219.20000000000002" y2="251.8"/><line x1="217.4" y1="278.65" x2="219.20000000000002" y2="278.65"/><line x1="217.4" y1="305.5" x2="219.20000000000002" y2="305.5"/></g>
<g font-family='"Liberation Sans", sans-serif' font-weight="bold" font-size="6.8" fill="#262626" stroke="#262626" stroke-width="0.2"><text x="274.1" y="325.6" text-anchor="middle">0</text><text x="329.3" y="325.6" text-anchor="middle">2</text><text x="384.5" y="325.6" text-anchor="middle">4</text><text x="217.20000000000002" y="199.2" text-anchor="end">2</text><text x="217.20000000000002" y="226.04999999999998" text-anchor="end">1</text><text x="217.20000000000002" y="252.9" text-anchor="end">0</text><text x="217.20000000000002" y="279.75" text-anchor="end">−1</text><text x="217.20000000000002" y="306.6" text-anchor="end">−2</text></g>
<text x="304.05" y="333.9" text-anchor="middle" font-family='"Liberation Sans", sans-serif' font-weight="bold" font-size="7.65" fill="#1a1a1a">average FW (scaled.)</text>
<text transform="translate(204.8,245.35) rotate(-90)" x="0" y="0" text-anchor="middle" font-family='"Liberation Sans", sans-serif' font-weight="bold" font-size="7.65" fill="#1a1a1a">SCWT (scaled.)</text>
<text x="231.6" y="301.8" font-family='"Liberation Sans", sans-serif' font-weight="bold" font-size="8.3" fill="#1a1a1a">β = -0.344</text>
<text x="231.6" y="312.0" font-family='"Liberation Sans", sans-serif' font-weight="bold" font-size="8.3" fill="#1a1a1a"><tspan font-style="italic">P</tspan> = 0.004</text>
<text x="202.2" y="185.1" font-family='"Liberation Sans", sans-serif' font-weight="bold" font-size="14" fill="#000">D</text>
<text x="407.3" y="16.9" font-family='"Liberation Sans", sans-serif' font-weight="bold" font-size="14" fill="#000">E</text>
<rect x="505.8" y="1.4" width="79.19999999999999" height="44.4" rx="7.5" ry="7.5" fill="#EDC7AB" stroke="#3a3a3a" stroke-width="1"/>
<text x="545.4" y="28.0" text-anchor="middle" font-family='"Liberation Sans", sans-serif' font-weight="bold" font-size="13.5" fill="#111">FW</text>
<rect x="407.9" y="97.2" width="80.30000000000001" height="44.999999999999986" rx="7.5" ry="7.5" fill="#F1E39C" stroke="#3a3a3a" stroke-width="1"/>
<text x="448.04999999999995" y="124.69999999999999" text-anchor="middle" font-family='"Liberation Sans", sans-serif' font-weight="bold" font-size="13.5" fill="#111">DTI-ALPS</text>
<rect x="604.3" y="97.2" width="80.0" height="44.999999999999986" rx="7.5" ry="7.5" fill="#BFD8EE" stroke="#3a3a3a" stroke-width="1"/>
<text x="644.3" y="124.89999999999999" text-anchor="middle" font-family='"Liberation Sans", sans-serif' font-weight="bold" font-size="13.5" fill="#111">SCWT</text>
<line x1="448.0" y1="97.2" x2="500.57" y2="29.78" stroke="#000" stroke-width="2.2"/>
<path d="M505.00,24.10 L503.11,33.03 L496.80,28.11 Z" fill="#000"/>
<line x1="585.3" y1="24.0" x2="639.69" y2="91.59" stroke="#000" stroke-width="2.2"/>
<path d="M644.20,97.20 L635.94,93.32 L642.18,88.30 Z" fill="#000"/>
<line x1="488.2" y1="119.0" x2="596.60" y2="119.00" stroke="#000" stroke-width="2.2"/>
<path d="M603.80,119.00 L595.60,123.00 L595.60,115.00 Z" fill="#000"/>
<text transform="translate(471.85,54.75) rotate(-52.65)" text-anchor="middle" font-family='"Liberation Sans", sans-serif' font-weight="bold" font-size="12" fill="#111">-0.452***</text>
<text transform="translate(620.3,56.85) rotate(52)" text-anchor="middle" font-family='"Liberation Sans", sans-serif' font-weight="bold" font-size="12" fill="#111">-0.293*</text>
<text x="500.2" y="114.7" font-family='"Liberation Sans", sans-serif' font-weight="bold" font-size="12.1" fill="#111">Indirect: 0.133*</text>
<text x="506.4" y="134.8" font-family='"Liberation Sans", sans-serif' font-weight="bold" font-size="12.1" fill="#111">Direct: 0.082</text>
<text x="406.9" y="185.7" font-family='"Liberation Sans", sans-serif' font-weight="bold" font-size="14" fill="#000">F</text>
<rect x="455.0" y="189.0" width="192.5" height="41.0" fill="#d9d8d7"/>
<rect x="455.0" y="272.1" width="192.5" height="40.8" fill="#d9d8d7"/>
<g stroke="#a8a8a8" stroke-width="0.6" stroke-dasharray="1 1.6"><line x1="575.70" y1="184.5" x2="575.70" y2="317.3"/><line x1="640.00" y1="184.5" x2="640.00" y2="317.3"/><line x1="455.0" y1="209.5" x2="647.5" y2="209.5"/><line x1="455.0" y1="251.1" x2="647.5" y2="251.1"/><line x1="455.0" y1="292.5" x2="647.5" y2="292.5"/></g>
<line x1="511.40" y1="184.5" x2="511.40" y2="317.3" stroke="#111" stroke-width="1"/>
<line x1="514.0" y1="209.5" x2="593.9" y2="209.5" stroke="#5bc8b8" stroke-width="1.4"/>
<circle cx="554.2" cy="209.5" r="2.2" fill="#5bc8b8"/>
<line x1="463.8" y1="251.1" x2="611.6" y2="251.1" stroke="#e0626e" stroke-width="1.4"/>
<circle cx="537.8" cy="251.1" r="2.0" fill="#fff" stroke="#e0626e" stroke-width="1.1"/>
<line x1="521.8" y1="292.5" x2="638.7" y2="292.5" stroke="#3d4a6b" stroke-width="1.4"/>
<circle cx="580.0" cy="292.5" r="2.4" fill="#3d4a6b"/>
<text x="600.7" y="215.3" text-anchor="middle" font-family='"Liberation Sans", sans-serif' font-weight="bold" font-size="12.4" fill="#000">*</text>
<text x="643.9" y="298.3" text-anchor="middle" font-family='"Liberation Sans", sans-serif' font-weight="bold" font-size="12.4" fill="#000">*</text>
<rect x="455.0" y="184.5" width="192.5" height="132.8" fill="none" stroke="#9a9a9a" stroke-width="1"/>
<g stroke="#333" stroke-width="0.8"><line x1="511.40" y1="317.3" x2="511.40" y2="319.3"/><line x1="575.70" y1="317.3" x2="575.70" y2="319.3"/><line x1="640.00" y1="317.3" x2="640.00" y2="319.3"/><line x1="453.0" y1="209.5" x2="455.0" y2="209.5"/><line x1="453.0" y1="251.1" x2="455.0" y2="251.1"/><line x1="453.0" y1="292.5" x2="455.0" y2="292.5"/></g>
<g font-family='"Liberation Sans", sans-serif' font-size="6.4" fill="#2a2a2a" stroke="#2a2a2a" stroke-width="0.15"><text x="511.40" y="325.7" text-anchor="middle">0.0</text><text x="575.70" y="325.7" text-anchor="middle">0.2</text><text x="640.00" y="325.7" text-anchor="middle">0.4</text></g>
<g font-family='"Liberation Sans", sans-serif' font-weight="bold" font-size="8.2" fill="#222"><text x="452.6" y="211.1" text-anchor="end">indirect</text><text x="452.6" y="252.7" text-anchor="end">direct</text><text x="452.6" y="294.1" text-anchor="end">total</text></g>
<text x="551.2" y="335.0" text-anchor="middle" font-family='"Liberation Sans", sans-serif' font-weight="bold" font-size="8.15" fill="#222">Mediation analysis</text>
<text x="553.4" y="343.4" text-anchor="middle" font-family='"Liberation Sans", sans-serif' font-weight="bold" font-size="8.2" fill="#222">(95% Confidence interval)</text>
</svg>
</body></html>
